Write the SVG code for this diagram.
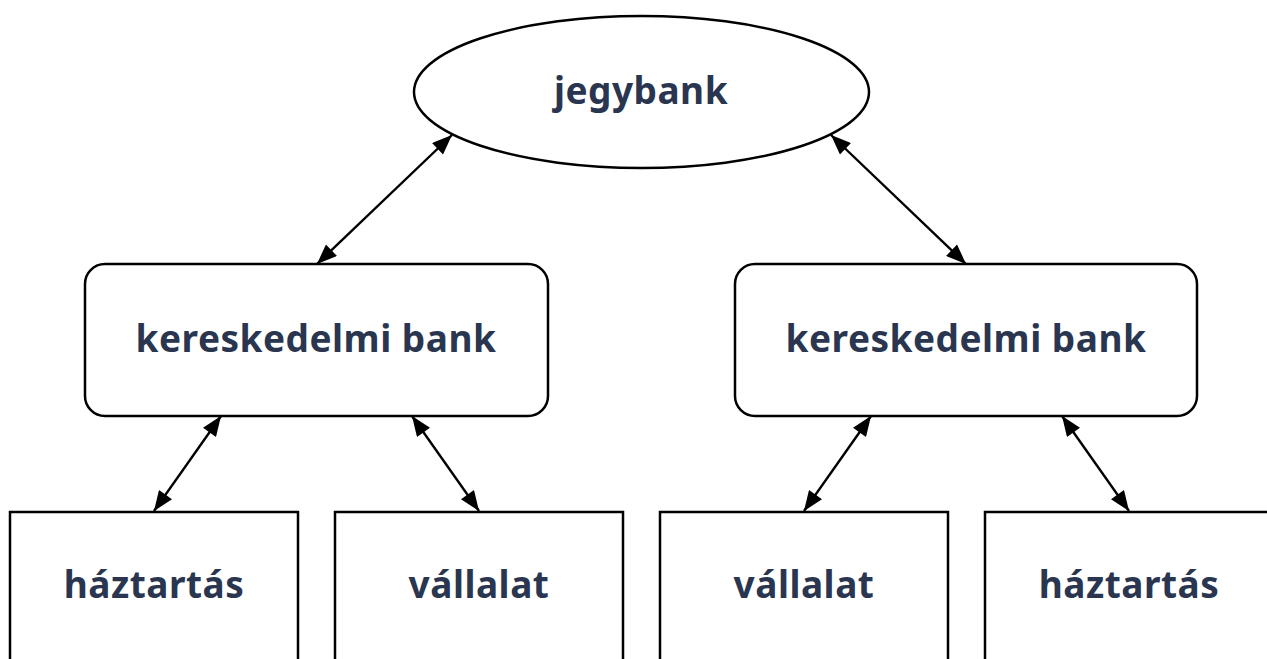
<svg xmlns="http://www.w3.org/2000/svg" width="1267" height="659" viewBox="0 0 1267 659">
<defs>
<style>
.shape{fill:#ffffff;stroke:#000000;stroke-width:2.5}
.lbl{font-family:"Noto Sans","Open Sans",sans-serif;font-weight:700;font-size:37px;letter-spacing:0.5px;fill:#2a3650;text-anchor:middle}
.conn{stroke:#000000;stroke-width:2.4;fill:none;marker-start:url(#ah);marker-end:url(#ah)}
</style>
<marker id="ah" viewBox="0 0 20 16" refX="20" refY="8" markerWidth="21" markerHeight="16" markerUnits="userSpaceOnUse" orient="auto-start-reverse">
<path d="M0,0 L20,8 L0,16 z" fill="#000000"/>
</marker>
</defs>
<rect width="1267" height="659" fill="#ffffff"/>
<g id="connectors">
<line class="conn" x1="317" y1="264" x2="452" y2="135"/>
<line class="conn" x1="831" y1="135" x2="966" y2="264"/>
<line class="conn" x1="154" y1="511" x2="221" y2="416"/>
<line class="conn" x1="479" y1="511" x2="412" y2="416"/>
<line class="conn" x1="804" y1="511" x2="871" y2="416"/>
<line class="conn" x1="1129" y1="511" x2="1062" y2="416"/>
</g>
<g id="jegybank">
<ellipse class="shape" cx="641.5" cy="92" rx="227.5" ry="76"/>
<text class="lbl" x="641" y="104">jegybank</text>
</g>
<g id="kbank1">
<rect class="shape" x="85" y="264" width="463" height="152" rx="20" ry="20"/>
<text class="lbl" x="316" y="352">kereskedelmi bank</text>
</g>
<g id="kbank2">
<rect class="shape" x="735" y="264" width="462" height="152" rx="20" ry="20"/>
<text class="lbl" x="966" y="352">kereskedelmi bank</text>
</g>
<g id="haztartas1">
<rect class="shape" x="10" y="512" width="288" height="200"/>
<text class="lbl" x="154" y="598">háztartás</text>
</g>
<g id="vallalat1">
<rect class="shape" x="335" y="512" width="288" height="200"/>
<text class="lbl" x="479" y="598">vállalat</text>
</g>
<g id="vallalat2">
<rect class="shape" x="660" y="512" width="288" height="200"/>
<text class="lbl" x="804" y="598">vállalat</text>
</g>
<g id="haztartas2">
<rect class="shape" x="985" y="512" width="300" height="200"/>
<text class="lbl" x="1129" y="598">háztartás</text>
</g>
</svg>
